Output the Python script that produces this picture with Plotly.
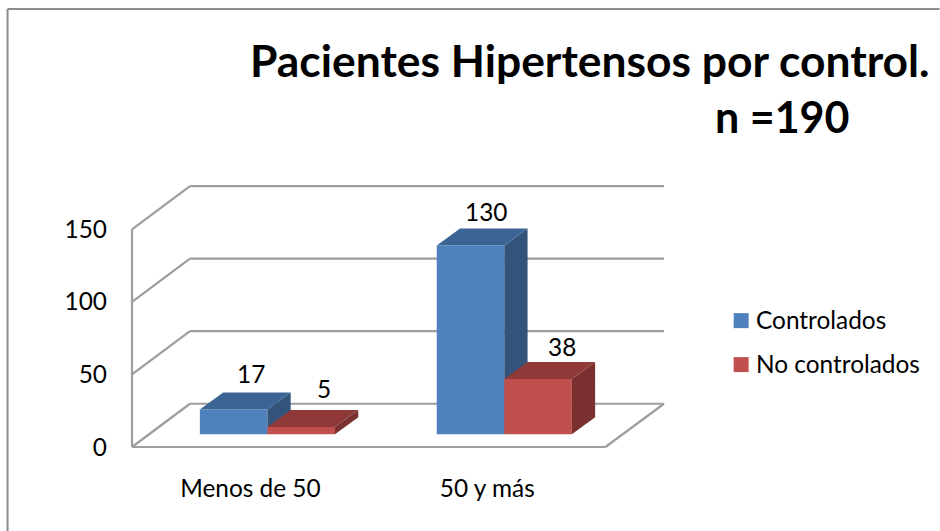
import plotly.graph_objects as go

categories = ["Menos de 50", "50 y más"]
series_names = ["Controlados", "No controlados"]
controlados = [17, 130]
no_controlados = [5, 38]
y_ticks = [0, 50, 100, 150]

W, H = 940, 531
PAD = 4.0       # room round the plot so that edge lines are not clipped
L, R, T, B = 132, 664.3, 185.7, 447.0
PX_X = 237.0    # pixels per category
PX_Y = 1.453    # pixels per value unit
X0 = -0.5
XMAX = X0 + (R - L) / PX_X
YMAX = (B - T) / PX_Y

# 3D geometry in axis units
WALL_DX = 58.0 / PX_X
WALL_DY = 43.3 / PX_Y
FLOOR_END = X0 + 473.7 / PX_X
BAR_W = 67.6 / PX_X
BAR_START = -0.2135
BAR_BASE = 12.8 / PX_Y
BAR_DX = 23.3 / PX_X
BAR_DY = 17.0 / PX_Y

FONT = "Lato"
TEXT_SIZE = 24.4
GRID = "#9E9E9E"
COLORS = [
    dict(front="#4F81BD", top="#3C6494", side="#33537B"),
    dict(front="#C0504D", top="#8F3A38", side="#7A302E"),
]
# label nudges (pixels) per series / category
LABEL_SHIFT = [[(6, 19), (4, 17)], [(11, 21), (12, 16)]]

fig = go.Figure()

shapes = []
def seg(x0, y0, x1, y1):
    shapes.append(dict(type="line", xref="x", yref="y", x0=x0, y0=y0, x1=x1, y1=y1,
                       layer="below", line=dict(color=GRID, width=2.2)))

# walls and floor
for t in y_ticks:
    seg(X0, t, X0 + WALL_DX, t + WALL_DY)
    seg(X0 + WALL_DX, t + WALL_DY, XMAX, t + WALL_DY)
seg(X0, 0, X0, y_ticks[-1])
seg(X0, 0, FLOOR_END, 0)
seg(FLOOR_END, 0, XMAX, WALL_DY)

def px(x): return (x - (L - PAD)) / (R - L + 2 * PAD)
def py(y): return ((B + PAD) - y) / (B - T + 2 * PAD)

# outer frame (left and top edges)
for (a, b, c, d) in [(7.5, 8.5, 7.5, H), (7.5, 8.5, W, 8.5)]:
    shapes.append(dict(type="line", xref="paper", yref="paper",
                       x0=px(a), y0=py(b), x1=px(c), y1=py(d),
                       line=dict(color="#8C8C8C", width=2), layer="below"))

all_series = [controlados, no_controlados]
annotations = []
for s, vals in enumerate(all_series):
    c = COLORS[s]
    xa, ya = ("x", "y") if s == 0 else ("x2", "y2")
    xs = [i + BAR_START + s * BAR_W for i in range(len(categories))]
    # front faces
    fig.add_trace(go.Bar(
        x=list(range(len(categories))), y=vals, base=BAR_BASE,
        width=BAR_W, offset=[BAR_START + s * BAR_W] * len(categories),
        marker=dict(color=c["front"], line=dict(width=0)),
        name=series_names[s], showlegend=False, hoverinfo="skip", xaxis=xa, yaxis=ya))
    # side and top faces
    for x, v in zip(xs, vals):
        top = BAR_BASE + v
        fig.add_trace(go.Scatter(
            x=[x + BAR_W, x + BAR_W + BAR_DX, x + BAR_W + BAR_DX, x + BAR_W, x + BAR_W],
            y=[BAR_BASE, BAR_BASE + BAR_DY, top + BAR_DY, top, BAR_BASE],
            mode="lines", fill="toself", fillcolor=c["side"], line=dict(width=0),
            showlegend=False, hoverinfo="skip", xaxis=xa, yaxis=ya))
        fig.add_trace(go.Scatter(
            x=[x, x + BAR_W, x + BAR_W + BAR_DX, x + BAR_DX, x],
            y=[top, top, top + BAR_DY, top + BAR_DY, top],
            mode="lines", fill="toself", fillcolor=c["top"], line=dict(width=0),
            showlegend=False, hoverinfo="skip", xaxis=xa, yaxis=ya))
    # data labels
    for i, (x, v) in enumerate(zip(xs, vals)):
        sx, sy = LABEL_SHIFT[s][i]
        annotations.append(dict(
            x=x + BAR_W / 2 + BAR_DX / 2, y=BAR_BASE + v + BAR_DY, xref="x", yref="y",
            text=str(v), showarrow=False, xshift=sx, yshift=sy,
            xanchor="center", yanchor="middle",
            font=dict(family=FONT, size=TEXT_SIZE, color="#000000")))
    # legend key and text
    ky = 320.5 + s * 44
    shapes.append(dict(type="rect", xref="paper", yref="paper",
                       x0=px(734), x1=px(749), y0=py(ky - 7.5), y1=py(ky + 7.5),
                       fillcolor=c["front"], line=dict(width=0)))
    annotations.append(dict(x=px(754.5), y=py(ky - 1), xref="paper", yref="paper", showarrow=False,
                            xanchor="left", yanchor="middle", text=series_names[s],
                            font=dict(family=FONT, size=TEXT_SIZE, color="#000000")))

for txt, cx, cy, size in [("Pacientes Hipertensos por control.", 590, 59, 44.4), ("n =190", 782, 116, 43)]:
    annotations.append(dict(x=px(cx), y=py(cy), xref="paper", yref="paper", showarrow=False,
                            xanchor="center", yanchor="middle", text="<b>" + txt + "</b>",
                            font=dict(family=FONT, size=size, color="#000000")))

fig.update_layout(
    width=W, height=H, autosize=False,
    margin=dict(l=L - PAD, r=W - R - PAD, t=T - PAD, b=H - B - PAD, pad=0),
    paper_bgcolor="#FFFFFF", plot_bgcolor="rgba(0,0,0,0)",
    barmode="overlay", shapes=shapes, annotations=annotations, showlegend=False,
    font=dict(family=FONT, size=TEXT_SIZE, color="#000000"),
    xaxis=dict(range=[X0 - PAD / PX_X, XMAX + PAD / PX_X], tickmode="array",
               tickvals=list(range(len(categories))),
               ticktext=categories, showgrid=False, zeroline=False, showline=False,
               ticks="", ticklabelstandoff=21, tickfont=dict(family=FONT, size=TEXT_SIZE)),
    yaxis=dict(range=[-PAD / PX_Y, YMAX + PAD / PX_Y], tickmode="array", tickvals=y_ticks,
               showgrid=False, zeroline=False, showline=False, ticks="", ticklabelstandoff=20,
               tickfont=dict(family=FONT, size=TEXT_SIZE)),
    xaxis2=dict(overlaying="x", matches="x", visible=False),
    yaxis2=dict(overlaying="y", matches="y", visible=False),
)

fig.write_html("out.html", config=dict(displayModeBar=False),
               post_script="document.body.style.margin='0';document.body.style.overflow='hidden';")
